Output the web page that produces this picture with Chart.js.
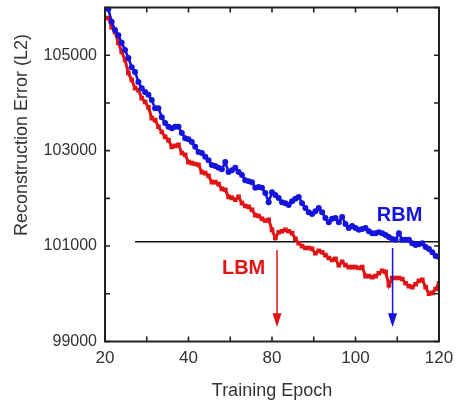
<!DOCTYPE html>
<html><head><meta charset="utf-8">
<script src="https://cdn.jsdelivr.net/npm/chart.js@4/dist/chart.umd.min.js"></script>
<style>html,body{margin:0;padding:0;background:#fff;}#wrap{width:459px;height:403px;}</style>
</head><body><div id="wrap"><canvas id="c" width="459" height="403"></canvas></div>
<script>
const epochs = [21,22,23,24,25,26,27,28,29,30,31,32,33,34,35,36,37,38,39,40,
  41,42,43,44,45,46,47,48,49,50,51,52,53,54,55,56,57,58,59,60,
  61,62,63,64,65,66,67,68,69,70,71,72,73,74,75,76,77,78,79,80,
  81,82,83,84,85,86,87,88,89,90,91,92,93,94,95,96,97,98,99,100,
  101,102,103,104,105,106,107,108,109,110,111,112,113,114,115,116,117,118,119,120];
const rbm = [105970,105700,105530,105420,105260,105110,104940,104750,104650,104440,
  104310,104230,104170,104060,103890,103890,103700,103580,103500,103470,
  103500,103500,103370,103260,103240,103180,103080,102970,102950,102870,
  102800,102700,102680,102640,102610,102760,102550,102590,102640,102550,
  102490,102380,102360,102340,102220,102240,102220,102110,101920,102130,
  102070,102010,101920,101900,101860,101940,101990,102030,101900,101800,
  101710,101670,101730,101800,101710,101590,101500,101570,101590,101500,
  101610,101460,101380,101420,101380,101340,101360,101380,101310,101270,
  101270,101290,101270,101230,101190,101150,101130,101270,101130,101130,
  101130,101060,101020,101040,101060,100980,100940,100870,100790,100770];
const lbm = [105780,105590,105490,105260,105070,104900,104630,104480,104310,104270,
  104100,104020,103910,103680,103640,103500,103390,103290,103220,103080,
  103100,103120,102950,102910,102760,102740,102720,102700,102550,102530,
  102470,102340,102340,102300,102200,102180,102030,102010,101970,102030,
  101900,101840,101820,101760,101650,101630,101570,101530,101550,101340,
  101170,101290,101310,101340,101310,101270,101150,101060,101000,100960,
  100960,100940,100850,100900,100870,100810,100750,100710,100730,100600,
  100670,100600,100560,100560,100560,100540,100560,100370,100370,100350,
  100370,100430,100480,100460,100180,100330,100330,100330,100310,100220,
  100160,100140,100200,100270,100290,100140,100000,100020,100100,100220];
const xTickValues = [20,32.5,45,57.5,70,82.5,95,107.5,120];
const xTickLabels = ["20","","40","","80","","100","","120"];
const yTickValues = [99000,100000,101000,102000,103000,104000,105000,106000];
const yTickLabels = ["99000","","101000","","103000","","105000",""];
const thresholdLine = {value:101090, from:29, to:120};
const arrowLBM = {x:71.5, from:100920, to:99300};
const arrowRBM = {x:106.1, from:100960, to:99300};
const labelLBM = {x:61.5, y:100530, text:"LBM"};
const labelRBM = {x:108.2, y:101650, text:"RBM"};

const BLUE = '#1414dc', RED = '#e01414', AX = '#222';
const FONT = '"Liberation Sans", Arial, Helvetica, sans-serif';

const deco = {
  id:'deco',
  beforeDatasetsDraw(chart){
    const {ctx, scales:{x,y}} = chart;
    ctx.save();
    ctx.strokeStyle = '#111'; ctx.lineWidth = 1.6;
    ctx.beginPath();
    const yy = y.getPixelForValue(thresholdLine.value);
    ctx.moveTo(x.getPixelForValue(thresholdLine.from), yy);
    ctx.lineTo(x.getPixelForValue(thresholdLine.to), yy);
    ctx.stroke();
    ctx.restore();
  },
  afterDraw(chart){
    const {ctx, chartArea:a, scales:{x,y}} = chart;
    ctx.save();
    [[arrowLBM, RED],[arrowRBM, BLUE]].forEach(([ar,col])=>{
      const px = x.getPixelForValue(ar.x), y0 = y.getPixelForValue(ar.from), y1 = y.getPixelForValue(ar.to);
      ctx.strokeStyle = col; ctx.fillStyle = col; ctx.lineWidth = 1.5;
      ctx.beginPath(); ctx.moveTo(px,y0); ctx.lineTo(px,y1-12); ctx.stroke();
      ctx.beginPath(); ctx.moveTo(px-4.5,y1-14); ctx.lineTo(px+4.5,y1-14); ctx.lineTo(px,y1); ctx.closePath(); ctx.fill();
    });
    ctx.font = 'bold 20px ' + FONT; ctx.textAlign = 'center'; ctx.textBaseline = 'middle';
    ctx.fillStyle = RED; ctx.fillText(labelLBM.text, x.getPixelForValue(labelLBM.x), y.getPixelForValue(labelLBM.y));
    ctx.fillStyle = BLUE; ctx.fillText(labelRBM.text, x.getPixelForValue(labelRBM.x), y.getPixelForValue(labelRBM.y));
    ctx.strokeStyle = AX; ctx.lineWidth = 2;
    ctx.strokeRect(a.left, a.top, a.right-a.left, a.bottom-a.top);
    ctx.lineWidth = 1.6;
    ctx.beginPath();
    xTickValues.forEach(v=>{const p = x.getPixelForValue(v);
      ctx.moveTo(p,a.bottom); ctx.lineTo(p,a.bottom-5);
      ctx.moveTo(p,a.top); ctx.lineTo(p,a.top+5);});
    yTickValues.forEach(v=>{const p = y.getPixelForValue(v);
      ctx.moveTo(a.left,p); ctx.lineTo(a.left+5,p);
      ctx.moveTo(a.right,p); ctx.lineTo(a.right-5,p);});
    ctx.stroke();
    ctx.fillStyle = '#333'; ctx.font = '18px ' + FONT;
    ctx.translate(22, 135); ctx.rotate(-Math.PI/2);
    ctx.textAlign='center'; ctx.textBaseline='middle';
    ctx.fillText('Reconstruction Error (L2)', 0, 0);
    ctx.restore();
  }
};

function zeroPad(s){ s.paddingTop = 0; s.paddingBottom = 0; s.paddingLeft = 0; s.paddingRight = 0; }

new Chart(document.getElementById('c'), {
  type:'line',
  data:{datasets:[
    {label:'RBM', data:epochs.map((e,i)=>({x:e,y:rbm[i]})), borderColor:BLUE, backgroundColor:BLUE,
      borderWidth:2.6, pointRadius:3, pointStyle:'circle', pointBorderWidth:0, tension:0},
    {label:'LBM', data:epochs.map((e,i)=>({x:e,y:lbm[i]})), borderColor:RED, backgroundColor:RED,
      borderWidth:3, pointRadius:3.3, pointStyle:'rect', pointBorderWidth:0, tension:0}
  ]},
  options:{
    responsive:false, animation:false, devicePixelRatio:1,
    layout:{padding:{top:7.5,right:20,left:0,bottom:0}},
    plugins:{legend:{display:false}, tooltip:{enabled:false}},
    scales:{
      x:{type:'linear', min:20, max:120,
        afterBuildTicks:s=>{s.ticks = xTickValues.map(v=>({value:v}));},
        afterFit:s=>{s.height = 61.5; zeroPad(s);},
        ticks:{callback:(v,i)=>xTickLabels[i], font:{family:FONT,size:17}, color:'#333', padding:7, maxRotation:0, autoSkip:false},
        grid:{display:false, drawTicks:false}, border:{display:false},
        title:{display:true, text:'Training Epoch', font:{family:FONT,size:18}, color:'#333', padding:{top:0,bottom:1}}
      },
      y:{type:'linear', min:99000, max:106000,
        afterBuildTicks:s=>{s.ticks = yTickValues.map(v=>({value:v}));},
        afterFit:s=>{s.width = 105; zeroPad(s);},
        ticks:{callback:(v,i)=>yTickLabels[i], font:{family:FONT,size:16}, color:'#333', padding:8, autoSkip:false},
        grid:{display:false, drawTicks:false}, border:{display:false}
      }
    }
  },
  plugins:[deco]
});
</script></body></html>
